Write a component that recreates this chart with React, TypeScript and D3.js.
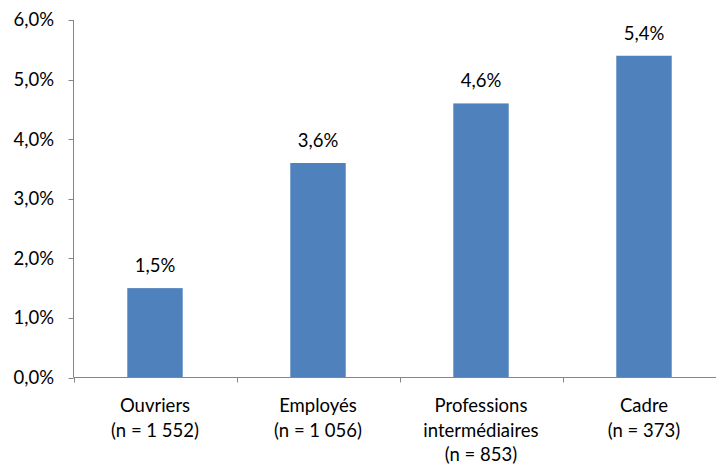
import React from "react";
import * as d3 from "d3";

const categories: string[][] = [
  ["Ouvriers", "(n = 1 552)"],
  ["Employés", "(n = 1 056)"],
  ["Professions", "intermédiaires", "(n = 853)"],
  ["Cadre", "(n = 373)"],
];
const values: number[] = [1.5, 3.6, 4.6, 5.4];
const yTicks: number[] = [0, 1, 2, 3, 4, 5, 6];

const W = 716;
const H = 466;
const left = 73.5;
const bandW = 163;
const top = 20;
const bottom = 377.5;
const FONT = "Lato, 'Open Sans', sans-serif";
const FS = 18.5;
const fmt = (v: number) => v.toFixed(1).replace(".", ",") + "%";

export default function App() {
  const x = d3
    .scaleBand<number>()
    .domain(d3.range(values.length))
    .range([left, left + bandW * values.length])
    .paddingInner(0.66)
    .paddingOuter(0.33);
  const y = d3.scaleLinear().domain([0, 6]).range([bottom, top]);
  const axisColor = "#868686";

  return (
    <svg
      width={W}
      height={H}
      style={{ position: "absolute", left: 0, top: 0, background: "#fff" }}
      fontFamily={FONT}
    >
      {values.map((v, i) => {
        const bx = x(i)!;
        const bw = x.bandwidth();
        return (
          <g key={i}>
            <rect x={bx} y={y(v)} width={bw} height={bottom - y(v)} fill="#4F81BD" />
            <text x={bx + bw / 2} y={y(v) - 16} textAnchor="middle" fontSize={FS} fill="#000">
              {fmt(v)}
            </text>
          </g>
        );
      })}
      {/* y axis */}
      <line x1={left} x2={left} y1={top} y2={bottom} stroke={axisColor} strokeWidth={1} />
      {yTicks.map((t) => (
        <g key={t}>
          <line x1={left - 5} x2={left} y1={Math.round(y(t)) + 0.5} y2={Math.round(y(t)) + 0.5} stroke={axisColor} />
          <text x={54} y={y(t)} dy="0.35em" textAnchor="end" fontSize={FS} fill="#000">
            {fmt(t)}
          </text>
        </g>
      ))}
      {/* x axis */}
      <line x1={left} x2={W} y1={bottom} y2={bottom} stroke={axisColor} strokeWidth={1} />
      {d3.range(values.length + 1).map((i) => {
        const tx = Math.round(left + bandW * i) + 0.5;
        return <line key={i} x1={tx} x2={tx} y1={bottom} y2={bottom + 5} stroke={axisColor} />;
      })}
      {categories.map((lines, i) => {
        const cx = x(i)! + x.bandwidth() / 2;
        return (
          <text key={i} x={cx} textAnchor="middle" fontSize={FS} fill="#000">
            {lines.map((l, j) => (
              <tspan key={j} x={cx} y={412 + j * 24.5}>
                {l}
              </tspan>
            ))}
          </text>
        );
      })}
    </svg>
  );
}
